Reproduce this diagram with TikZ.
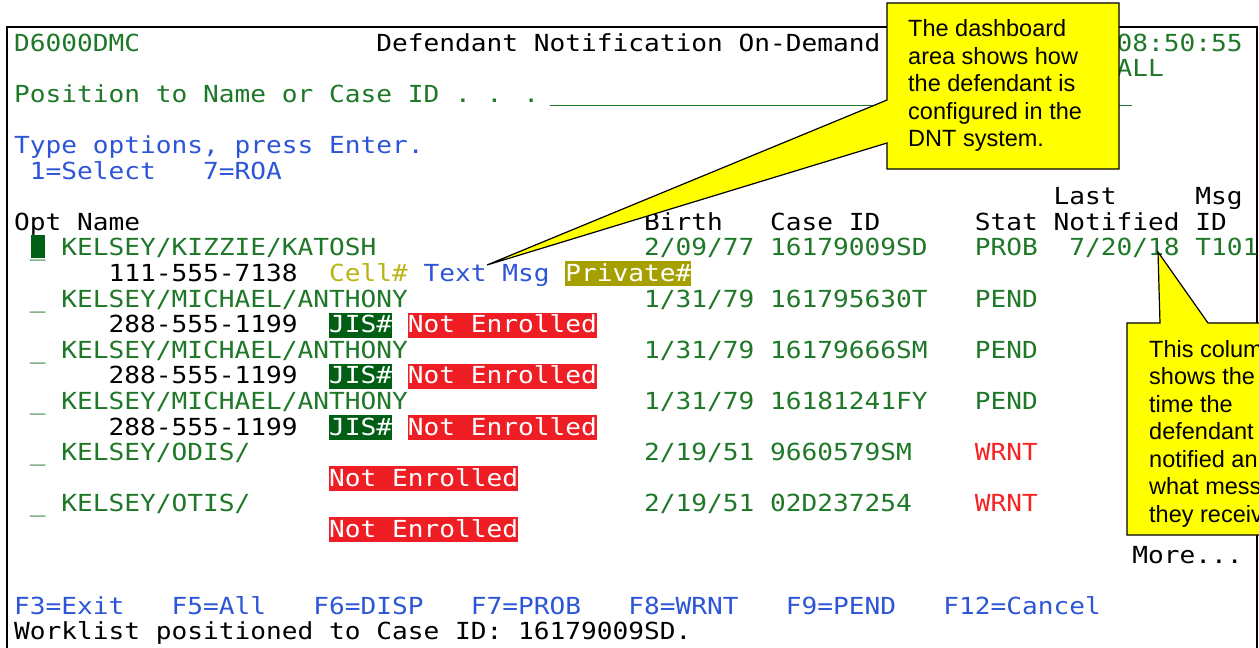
\documentclass[tikz,border=0pt]{standalone}
\usepackage{fontspec}
\usepackage{xcolor}
\usepackage{tikz}
\usetikzlibrary{positioning}
\setmainfont{Liberation Sans}
\newfontfamily\scrfont[FakeStretch=1.113]{DejaVu Sans Mono}

\definecolor{scrgreen}{RGB}{30,120,40}
\definecolor{scrblue}{RGB}{45,85,215}
\definecolor{scrred}{RGB}{245,35,35}
\definecolor{celltxt}{RGB}{185,180,20}
\definecolor{privbg}{RGB}{165,160,0}
\definecolor{jisbg}{RGB}{0,95,20}
\definecolor{nebg}{RGB}{238,30,36}
\definecolor{noteyellow}{RGB}{255,255,0}

\begin{document}
\begin{tikzpicture}[x=1pt,y=-1pt,
  scr/.style={anchor=base west,inner sep=0pt,font=\scrfont\fontsize{23.5}{25}\selectfont},
  hl/.style={scr,text=white,text height=20pt,text depth=5pt},
  note/.style={fill=noteyellow,draw=black,line width=1.2pt},
  notetext/.style={anchor=north west,inner sep=0pt,align=left,
    font=\fontsize{23.5}{27.5}\selectfont}]

\useasboundingbox (0,0) rectangle (1259,648);
\clip (0,0) rectangle (1259,648);

\draw[line width=1.6pt] (7,27) rectangle (1257,700);

% screen, one unit per character cell
\begin{scope}[x=15.75pt,y=-25.6pt,shift={(14pt,-51pt)}]
\node[scr,text=scrgreen] (Pgm) at (0,0) {D6000DMC};
\node[scr] (Title) at (23,0) {Defendant Notification On-Demand};
\node[scr,text=scrgreen] (Clock) at (70,0) {08:50:55};
\node[scr,text=scrgreen] (Mode) at (70,1) {ALL};
\node[scr,text=scrgreen] (Pos) at (0,2) {Position to Name or Case ID . . .};
\coordinate (Fld_a) at (34,2.12);
\coordinate (Fld_b) at (71,2.12);
\draw[scrgreen,line width=1pt] (Fld_a) -- (Fld_b);

\node[scr,text=scrblue] (Help) at (0,4) {Type options, press Enter.};
\node[scr,text=scrblue] (Opt_1) at (1,5) {1=Select};
\node[scr,text=scrblue] (Opt_7) at (12,5) {7=ROA};

\node[scr] (H_last) at (66,6) {Last};
\node[scr] (H_msg) at (75,6) {Msg};
\node[scr] (H_opt) at (0,7) {Opt Name};
\node[scr] (H_birth) at (40,7) {Birth};
\node[scr] (H_case) at (48,7) {Case ID};
\node[scr] (H_stat) at (61,7) {Stat Notified ID};

\foreach \r/\nm/\dob/\cid/\st/\sc in {
    8/{KELSEY/KIZZIE/KATOSH}/{2/09/77}/16179009SD/PROB/scrgreen,
    10/{KELSEY/MICHAEL/ANTHONY}/{1/31/79}/161795630T/PEND/scrgreen,
    12/{KELSEY/MICHAEL/ANTHONY}/{1/31/79}/16179666SM/PEND/scrgreen,
    14/{KELSEY/MICHAEL/ANTHONY}/{1/31/79}/16181241FY/PEND/scrgreen,
    16/{KELSEY/ODIS/}/{2/19/51}/9660579SM/WRNT/scrred,
    18/{KELSEY/OTIS/}/{2/19/51}/02D237254/WRNT/scrred}{
  \node[scr,text=scrgreen] (Sel_\r) at (1,\r) {\_};
  \node[scr,text=scrgreen] (Name_\r) at (3,\r) {\nm};
  \node[scr,text=scrgreen] (Dob_\r) at (40,\r) {\dob};
  \node[scr,text=scrgreen] (Case_\r) at (48,\r) {\cid};
  \node[scr,text=\sc] (Stat_\r) at (61,\r) {\st};
}
\fill[jisbg] (1.05,7.18) rectangle (1.95,8.08);
\node[scr,text=scrgreen] (Notif) at (67,8) {7/20/18};
\node[scr,text=scrgreen] (Msgid) at (75,8) {T101};

\node[scr] (Phone_9) at (6,9) {111-555-7138};
\node[scr,text=celltxt] (Cell) at (20,9) {Cell\#};
\node[scr,text=scrblue] (Txt) at (26,9) {Text Msg};
\node[hl,fill=privbg] (Priv) at (35,9) {Private\#};

\foreach \r in {11,13,15}{
  \node[scr] (Phone_\r) at (6,\r) {288-555-1199};
  \node[hl,fill=jisbg] (Jis_\r) at (20,\r) {JIS\#};
  \node[hl,fill=nebg] (Enr_\r) at (25,\r) {Not Enrolled};
}
\foreach \r in {17,19}
  \node[hl,fill=nebg] (Enr_\r) at (20,\r) {Not Enrolled};

\node[scr] (More) at (71,20) {More...};

\foreach \c/\k in {0/F3=Exit,10/F5=All,19/F6=DISP,29/F7=PROB,39/F8=WRNT,49/F9=PEND,59/F12=Cancel}
  \node[scr,text=scrblue] (Key_\c) at (\c,22) {\k};
\node[scr] (Msgline) at (0,23) {Worklist positioned to Case ID: 16179009SD.};
\end{scope}

% callouts
\coordinate (Tip_a) at (487,265);
\coordinate (Tip_b) at (1158,252);
\path[note] (887,3) -- (1119,3) -- (1119,169) -- (887,169) -- (887,143)
  -- (Tip_a) -- (887,100) -- cycle;
\path[note] (1127,323) -- (1160,323) -- (Tip_b) -- (1208,323) -- (1275,323)
  -- (1275,535) -- (1127,535) -- cycle;

\node[notetext] (Note_a) at (908,19.5)
  {The dashboard\\area shows how\\the defendant is\\configured in the\\DNT system.};
\node[notetext] (Note_b) at (1149,340.2)
  {This colum\\shows the\\time the\\defendant\\notified an\\what mess\\they receiv};
\end{tikzpicture}
\end{document}
